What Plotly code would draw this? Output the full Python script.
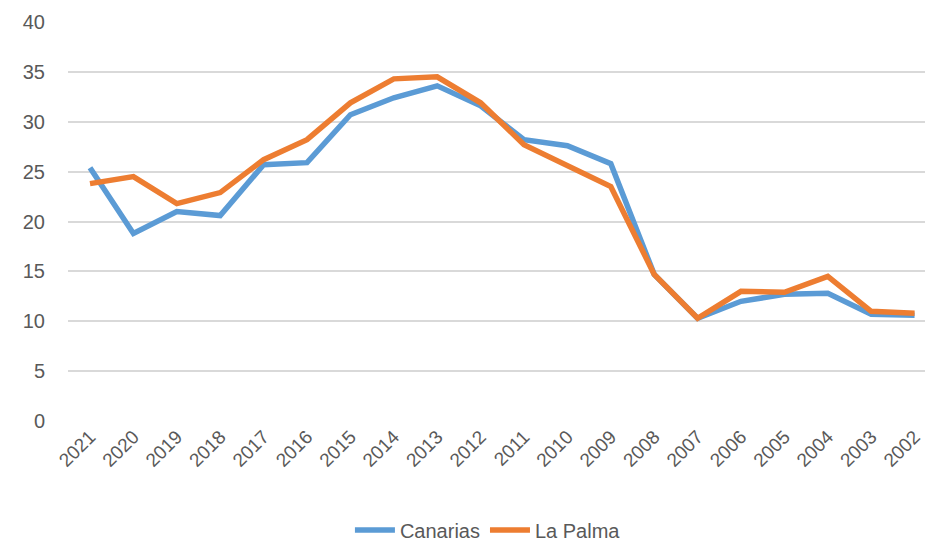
import plotly.graph_objects as go

years = ["2021", "2020", "2019", "2018", "2017", "2016", "2015", "2014", "2013", "2012",
         "2011", "2010", "2009", "2008", "2007", "2006", "2005", "2004", "2003", "2002"]
canarias = [25.4, 18.8, 21.0, 20.6, 25.7, 25.9, 30.7, 32.4, 33.6, 31.6,
            28.2, 27.6, 25.8, 14.7, 10.3, 12.0, 12.7, 12.8, 10.7, 10.6]
la_palma = [23.8, 24.5, 21.8, 22.9, 26.2, 28.2, 31.9, 34.3, 34.5, 31.9,
            27.7, 25.6, 23.5, 14.7, 10.3, 13.0, 12.9, 14.5, 11.0, 10.8]
y_ticks = [0, 5, 10, 15, 20, 25, 30, 35, 40]

FONT = "Liberation Sans, Arial, sans-serif"
GREY = "#595959"

fig = go.Figure()
fig.add_trace(go.Scatter(x=years, y=canarias, name="Canarias", mode="lines",
                         line=dict(color="#5B9BD5", width=5.5)))
fig.add_trace(go.Scatter(x=years, y=la_palma, name="La Palma", mode="lines",
                         line=dict(color="#ED7D31", width=5.5)))

fig.update_layout(
    width=925, height=542,
    margin=dict(l=68, r=0, t=22, b=121),
    paper_bgcolor="white", plot_bgcolor="white",
    font=dict(family=FONT, size=20, color=GREY),
    showlegend=True,
    legend=dict(orientation="h", x=0.49, xanchor="center", yref="container",
                y=0.022, yanchor="middle",
                font=dict(family=FONT, size=20, color=GREY), itemwidth=40),
    xaxis=dict(type="category", range=[-0.507, 19.24], tickangle=-45,
               showgrid=False, showline=False, ticks="", zeroline=False,
               automargin=False,
               tickfont=dict(family=FONT, size=19, color=GREY)),
    yaxis=dict(range=[0, 40], tickvals=y_ticks, showgrid=True, gridcolor="#D9D9D9",
               gridwidth=1.5, zeroline=False, showline=False, ticks="",
               ticklabelstandoff=22, automargin=False,
               tickfont=dict(family=FONT, size=20, color=GREY)),
)

fig.write_html("out.html", config={"displayModeBar": False},
               post_script="document.body.style.margin='0';document.body.style.overflow='hidden';")
